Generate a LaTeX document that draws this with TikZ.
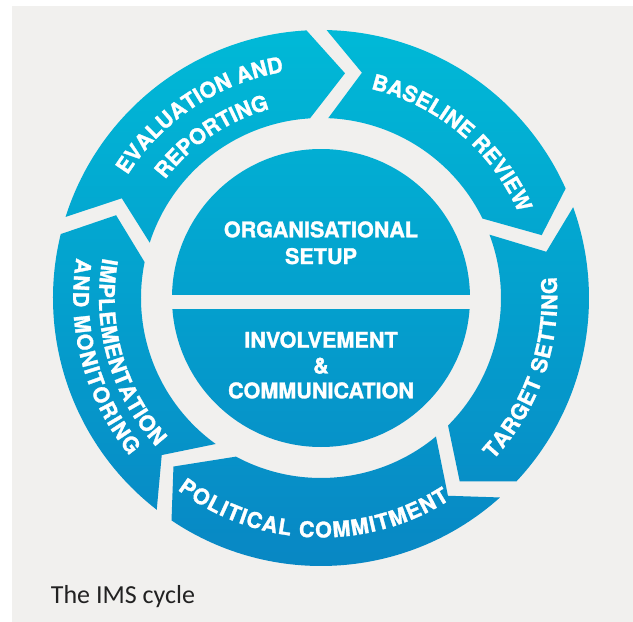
\documentclass[tikz,border=0pt]{standalone}
\usepackage{fontspec}
\setmainfont{TeX Gyre Heros}[BoldFeatures={FakeBold=1.3}]
\newfontfamily\capfont{Carlito}
\usetikzlibrary{decorations.text}
\definecolor{bg}{HTML}{F1F0EE}
\definecolor{ctop}{HTML}{00B9D7}
\definecolor{cbot}{HTML}{0887C4}
\definecolor{captc}{HTML}{222222}
\newcommand\lblfont{\fontsize{21.6}{21.6}\selectfont\bfseries}
\newcommand\midfont{\fontsize{21.6}{21.6}\selectfont\bfseries}
\tikzset{
  ringseg/.style n args={6}{insert path={(#1:268) arc[start angle=#1, end angle=#4, radius=268] -- (#6) -- (#5:180) arc[start angle=#5, end angle=#2, radius=180] -- (#3) -- cycle}},
  ringtext/.style={decorate, decoration={text along path, text={|\lblfont|#1}, text color=white, text align=fit to path}},
  centertext/.style={text=white, font=\midfont, inner sep=0pt, anchor=base},
}
\begin{document}
\begin{tikzpicture}[x=1pt,y=1pt]
\useasboundingbox (-321,298) rectangle (312,-324);
\fill[bg] (-309,292) rectangle (312,-324);
\begin{scope}
\clip (0,0) circle[radius=149]
  [ringseg={162.4}{162.1}{153.4:222.8}{93.1}{93.5}{83.9:226}]
  [ringseg={88.8}{87.7}{79.7:229}{24.1}{26.2}{15.9:229.5}]
  [ringseg={19.8}{20.6}{11.6:230}{-43.2}{-45.1}{-52.9:230}]
  [ringseg={-48.1}{-50.3}{-57.3:235}{-123.9}{-118.2}{-131.2:224}]
  [ringseg={-127.8}{-125.8}{-135.4:223.7}{-193.8}{-191.5}{-202:221}];
\shade[top color=ctop, bottom color=cbot] (-280,268) rectangle (280,-268);
\end{scope}
\fill[bg] (-152,3) rectangle (152,-10.5);
\node[centertext] (org1) at (0,60.7) {ORGANISATIONAL};
\node[centertext] (org2) at (0,34) {SETUP};
\node[centertext] (inv1) at (0,-49.7) {INVOLVEMENT};
\node[centertext] (inv2) at (0,-75.3) {\&};
\node[centertext] (inv3) at (0,-100.3) {COMMUNICATION};
\path[ringtext={EVALUATION AND}] (147.6:229.2) arc[start angle=147.6, end angle=100.2, radius=229.2];
\path[ringtext={REPORTING}] (142.8:195.7) arc[start angle=142.8, end angle=106.5, radius=195.7];
\path[ringtext={BASELINE REVIEW}] (76.6:215) arc[start angle=76.6, end angle=24.2, radius=215];
\path[ringtext={TARGET SETTING}] (-43.25:236.3) arc[start angle=-43.25, end angle=5.1, radius=236.3];
\path[ringtext={POLITICAL COMMITMENT}] (-126.8:239.5) arc[start angle=-126.8, end angle=-57.4, radius=239.5];
\path[ringtext={IMPLEMENTATION}] (169.6:222) arc[start angle=169.6, end angle=222.1, radius=222];
\path[ringtext={AND MONITORING}] (170.7:247.8) arc[start angle=170.7, end angle=219.5, radius=247.8];
\node[font=\capfont\fontsize{26}{26}\selectfont, text=captc, inner sep=0pt, anchor=base west] (cap) at (-270.3,-305.3) {The IMS cycle};
\end{tikzpicture}
\end{document}
